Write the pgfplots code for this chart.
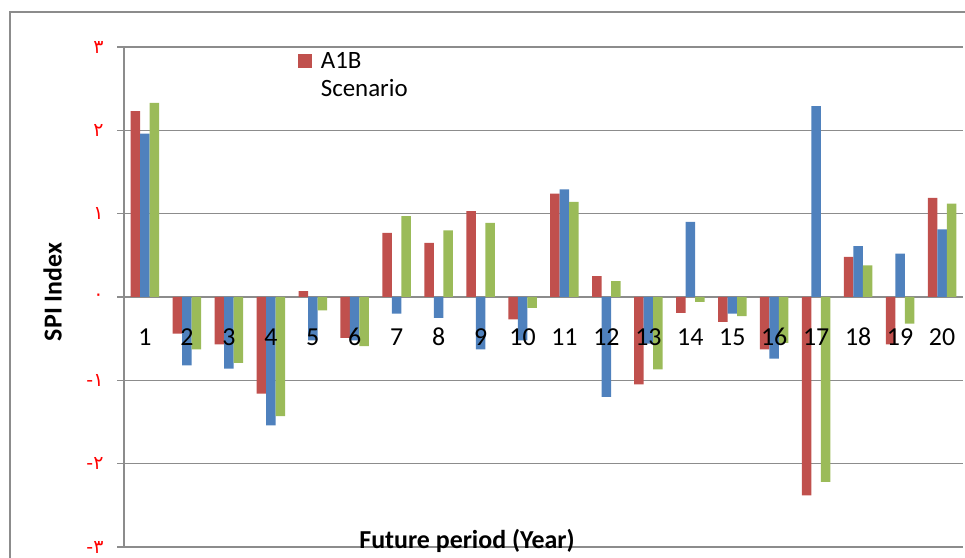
\documentclass[border=0pt]{standalone}
\usepackage{fontspec}
\setmainfont{Carlito}
\newfontfamily\digitfont{DejaVu Sans}
\usepackage{pgfplots}
\pgfplotsset{compat=1.18}

\definecolor{sred}{HTML}{C0504D}
\definecolor{sblue}{HTML}{4F81BD}
\definecolor{sgreen}{HTML}{9BBB59}
\definecolor{gridgray}{HTML}{8C8C8C}

% tick labels above the bars, as in the reference
\pgfplotsset{
  layers/labelsontop/.define layer set={
    axis background,axis grid,axis ticks,axis lines,pre main,main,axis tick labels,axis descriptions,axis foreground
  }{/pgfplots/layers/standard},
}

\begin{document}
\begin{tikzpicture}
\begin{axis}[
  set layers=labelsontop,
  scale only axis, width=839bp, height=500bp,
  ybar, bar width=9.5bp,
  xmin=0.5, xmax=20.5, ymin=-3, ymax=3,
  axis y line=left, axis x line=middle,
  axis line style={-, draw=gridgray, line width=1.6bp},
  xtick={1,...,20}, xtick style={draw=none},
  /pgf/number format/assume math mode=true,
  xticklabel style={font=\fontsize{26}{30}\selectfont, anchor=base, yshift=-42bp},
  ytick={-3,-2,-1,0,1,2,3},
  yticklabels={{-٣},{-٢},{-١},{٠},{١},{٢},{٣}},
  yticklabel style={font=\digitfont\fontsize{19}{22}\selectfont, text=red, xshift=-10bp},
  tick align=outside, major tick length=7bp,
  ytick style={draw=gridgray, line width=1.6bp},
  ymajorgrids, grid style={draw=gridgray, line width=1.6bp},
  ylabel={\textbf{SPI Index}},
  ylabel style={font=\fontsize{26}{30}\selectfont, at={(axis description cs:-0.085,0.51)}, anchor=center},
  xlabel={\textbf{Future period (Year)}},
  xlabel style={font=\fontsize{26}{30}\selectfont, at={(axis description cs:0,0)}, anchor=base, xshift=343bp, yshift=-1bp},
  legend style={draw=none, fill=none, at={(axis description cs:0.207,0.994)}, anchor=north west,
    font=\fontsize{25}{30}\selectfont, inner sep=0pt, row sep=6bp, column sep=7bp,
    legend cell align=left},
]
\addplot[fill=sred, draw=none, bar shift=-9.5bp,
  legend image code/.code={\fill[sred] (0bp,-7bp) rectangle (14bp,7bp);}]
  coordinates {(1,2.23) (2,-0.44) (3,-0.57) (4,-1.16) (5,0.07) (6,-0.49) (7,0.77) (8,0.65) (9,1.03) (10,-0.27)
  (11,1.24) (12,0.25) (13,-1.05) (14,-0.19) (15,-0.30) (16,-0.63) (17,-2.38) (18,0.48) (19,-0.57) (20,1.19)};
\addplot[fill=sblue, draw=none, bar shift=0bp]
  coordinates {(1,1.96) (2,-0.82) (3,-0.86) (4,-1.54) (5,-0.52) (6,-0.52) (7,-0.20) (8,-0.25) (9,-0.63) (10,-0.52)
  (11,1.29) (12,-1.20) (13,-0.56) (14,0.90) (15,-0.20) (16,-0.74) (17,2.29) (18,0.61) (19,0.52) (20,0.81)};
\addplot[fill=sgreen, draw=none, bar shift=9.5bp]
  coordinates {(1,2.33) (2,-0.63) (3,-0.79) (4,-1.43) (5,-0.16) (6,-0.59) (7,0.97) (8,0.80) (9,0.89) (10,-0.13)
  (11,1.14) (12,0.19) (13,-0.87) (14,-0.06) (15,-0.23) (16,-0.55) (17,-2.22) (18,0.38) (19,-0.32) (20,1.12)};
\addlegendimage{empty legend}
\legend{A1B,,,Scenario}
\end{axis}
\draw[gridgray, line width=1.2bp] (-114bp,-40bp) rectangle (860bp,535bp);
\pgfresetboundingbox
\path[use as bounding box] (-124bp,-11bp) rectangle (841bp,547bp);
\end{tikzpicture}
\end{document}
